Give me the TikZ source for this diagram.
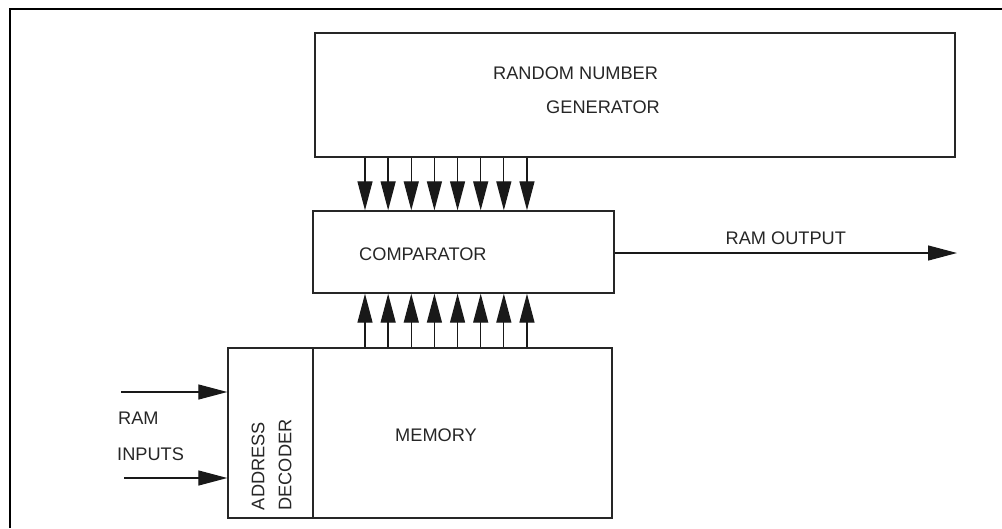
\documentclass[tikz,border=0pt]{standalone}
\usepackage{fontspec}
\setmainfont{Liberation Sans}
\usetikzlibrary{arrows.meta}
\begin{document}
\begin{tikzpicture}[x=1pt,y=-1pt,
  box/.style={draw=black!85, line width=1.4pt, rectangle, inner sep=0pt},
  lbl/.style={inner sep=0pt, font=\fontsize{18.2}{22}\selectfont, text=black!85},
  arr/.style={line width=1.3pt, draw=black!90, -{Triangle[length=29pt,width=15pt]}},
  frame/.style={line width=2.2pt, draw=black}]
\useasboundingbox (0,0) rectangle (1002,528);
% outer frame
\coordinate (fbl) at (10,528);
\coordinate (ftl) at (10,9);
\coordinate (ftr) at (1002,9);
\draw[frame] (fbl) -- (ftl) -- (ftr);
% blocks
\node[box, minimum width=640pt, minimum height=124pt] (rng) at (635,95) {};
\node[box, minimum width=301pt, minimum height=82pt] (comp) at (463.5,252) {};
\node[box, minimum width=85pt, minimum height=170pt] (addr) at (270.5,433) {};
\node[box, minimum width=299pt, minimum height=170pt] (mem) at (462.5,433) {};
% labels
\node[lbl, anchor=west] (t1) at (493,73) {RANDOM NUMBER};
\node[lbl, anchor=west] (t2) at (546,107) {GENERATOR};
\node[lbl, anchor=west] (t3) at (359,254) {COMPARATOR};
\node[lbl, anchor=west] (t4) at (395,435) {MEMORY};
\node[lbl, anchor=west] (t5) at (118,418) {RAM};
\node[lbl, anchor=west] (t6) at (117,454) {INPUTS};
\node[lbl, rotate=90] (t7) at (258,466) {ADDRESS};
\node[lbl, rotate=90] (t8) at (285,465) {DECODER};
% bus arrows
\foreach \i in {0,...,7}{
  \pgfmathsetmacro{\xx}{365+23.14*\i}
  \coordinate (c\i) at (\xx,0);
  \draw[arr] (rng.south -| c\i) -- (comp.north -| c\i);
  \draw[arr] (mem.north -| c\i) -- (comp.south -| c\i);
}
% output
\coordinate (outend) at (957,253);
\draw[arr] (comp.east |- outend) -- node[lbl, above=8pt] (t9) {RAM OUTPUT} (outend);
% inputs
\coordinate (in1) at (121,392);
\coordinate (in2) at (124,478);
\draw[arr] (in1) -- (in1 -| addr.west);
\draw[arr] (in2) -- (in2 -| addr.west);
\end{tikzpicture}
\end{document}
